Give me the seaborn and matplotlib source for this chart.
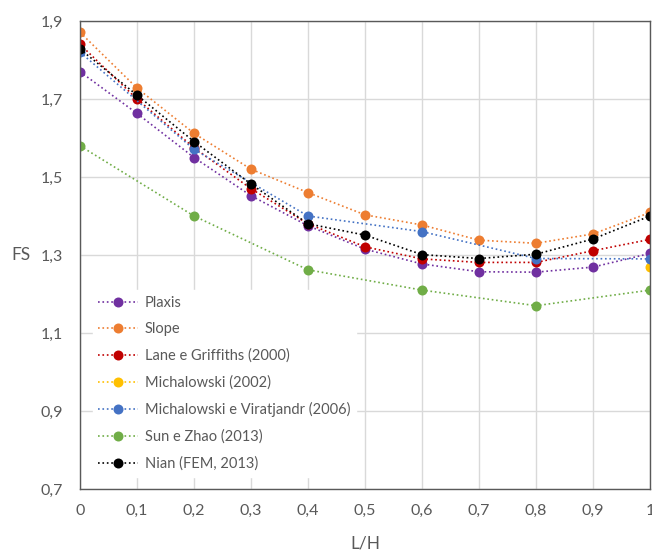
import numpy as np
import pandas as pd
import matplotlib
matplotlib.use("Agg")
import matplotlib.pyplot as plt
import seaborn as sns

# ------------------------------
# DATA
# ------------------------------
lh = [0, 0.1, 0.2, 0.3, 0.4, 0.5, 0.6, 0.7, 0.8, 0.9, 1.0]

plaxis = [1.77, 1.663, 1.55, 1.452, 1.375, 1.315, 1.277, 1.257, 1.256, 1.269, 1.304]
slope = [1.871, 1.728, 1.612, 1.52, 1.46, 1.403, 1.377, 1.338, 1.33, 1.354, 1.409]
lane = [1.84, 1.70, 1.575, 1.47, 1.38, 1.321, 1.29, 1.281, 1.281, 1.311, 1.34]
michal_2002 = [np.nan] * 10 + [1.27]
michal_2006 = [1.82, np.nan, 1.571, np.nan, 1.40, np.nan, 1.36, np.nan, 1.291, np.nan, 1.29]
sun_zhao = [1.58, np.nan, 1.40, np.nan, 1.262, np.nan, 1.21, np.nan, 1.17, np.nan, 1.21]
nian = [1.828, 1.71, 1.591, 1.482, 1.38, 1.351, 1.301, 1.291, 1.302, 1.341, 1.40]

series_names = [
    "Plaxis",
    "Slope",
    "Lane e Griffiths (2000)",
    "Michalowski (2002)",
    "Michalowski e Viratjandr (2006)",
    "Sun e Zhao (2013)",
    "Nian (FEM, 2013)",
]
series_values = [plaxis, slope, lane, michal_2002, michal_2006, sun_zhao, nian]
series_colors = ["#7030A0", "#ED7D31", "#C00000", "#FFC000", "#4472C4", "#70AD47", "#000000"]

x_ticks = [0, 0.1, 0.2, 0.3, 0.4, 0.5, 0.6, 0.7, 0.8, 0.9, 1.0]
x_ticklabels = ["0", "0,1", "0,2", "0,3", "0,4", "0,5", "0,6", "0,7", "0,8", "0,9", "1"]
y_ticks = [0.7, 0.9, 1.1, 1.3, 1.5, 1.7, 1.9]
y_ticklabels = ["0,7", "0,9", "1,1", "1,3", "1,5", "1,7", "1,9"]

# ------------------------------
# STYLE
# ------------------------------
sns.set_style("white")
plt.rcParams["font.family"] = ["Lato", "DejaVu Sans"]

gray_text = "#595959"

fig = plt.figure(figsize=(6.52, 5.51), dpi=100)
ax = fig.add_axes([80 / 652, 1 - 489 / 551, 570 / 652, 468 / 551])

# ------------------------------
# PLOT
# ------------------------------
for name, vals, color in zip(series_names, series_values, series_colors):
    df = pd.DataFrame({"L/H": lh, "FS": vals}).dropna()
    sns.lineplot(
        data=df, x="L/H", y="FS", ax=ax, color=color, label=name,
        linestyle=":", linewidth=1.2, marker="o", markersize=7.2,
        markeredgewidth=0, estimator=None, sort=False,
    )

ax.set_xlim(0, 1)
ax.set_ylim(0.7, 1.9)
ax.set_xticks(x_ticks)
ax.set_xticklabels(x_ticklabels)
ax.set_yticks(y_ticks)
ax.set_yticklabels(y_ticklabels)
ax.grid(True, color="#D9D9D9", linewidth=1)
ax.set_axisbelow(True)

for side in ["left", "right", "top", "bottom"]:
    ax.spines[side].set_color("#595959")
    ax.spines[side].set_linewidth(1.0)

ax.tick_params(axis="both", direction="in", length=5, width=1, color="#595959",
               labelsize=11.5, labelcolor=gray_text)
ax.tick_params(axis="x", pad=11)
ax.tick_params(axis="y", pad=12)

ax.set_xlabel("L/H", fontsize=12.5, color=gray_text, va="center")
ax.xaxis.set_label_coords(0.5, -0.1154)
ax.set_ylabel("FS", fontsize=12.5, color=gray_text, rotation=0, va="center", ha="center")
ax.yaxis.set_label_coords(-0.1035, 0.5)

leg = ax.legend(
    loc="upper left", bbox_to_anchor=(0.022, 0.425), frameon=True, framealpha=1,
    edgecolor="white", fontsize=10.5, labelspacing=0.85, handlelength=2.7,
    handletextpad=0.5, borderaxespad=0, labelcolor=gray_text,
)

fig.savefig("out.png", dpi=100)
